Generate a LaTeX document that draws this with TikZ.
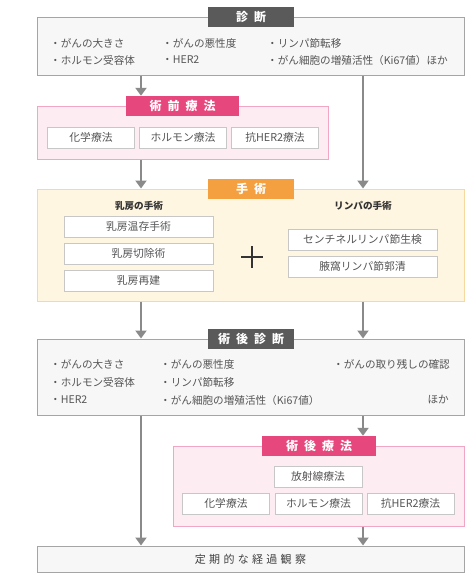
\documentclass[tikz,border=0pt]{standalone}
\usepackage{fontspec}
\setmainfont{Noto Sans CJK JP}
\usetikzlibrary{arrows.meta}
\definecolor{tabgray}{RGB}{90,90,90}
\definecolor{boxgray}{RGB}{247,247,247}
\definecolor{linegray}{RGB}{165,165,165}
\definecolor{arrgray}{RGB}{138,138,138}
\definecolor{pinktab}{RGB}{230,72,126}
\definecolor{pinkfill}{RGB}{253,237,243}
\definecolor{pinkline}{RGB}{241,166,195}
\definecolor{orangetab}{RGB}{244,160,64}
\definecolor{creamfill}{RGB}{255,246,225}
\definecolor{creamline}{RGB}{246,217,160}
\definecolor{txtgray}{RGB}{85,85,85}

\begin{document}
\begin{tikzpicture}[x=1pt,y=-1pt,
  frame/.style={draw=linegray,fill=boxgray,line width=1pt,inner sep=0pt},
  pinkframe/.style={draw=pinkline,fill=pinkfill,line width=1pt,inner sep=0pt},
  creamframe/.style={draw=creamline,fill=creamfill,line width=1pt,inner sep=0pt},
  tab/.style={fill=tabgray,text=white,minimum height=20pt,inner sep=0pt,
    font=\bfseries\fontsize{12}{12}\selectfont\addfontfeature{LetterSpace=50}},
  item/.style={draw=black!22,fill=white,line width=0.8pt,minimum height=21pt,inner sep=0pt,
    text=txtgray,font=\fontsize{10.8}{11}\selectfont},
  txt/.style={anchor=west,inner sep=0pt,text=txtgray,font=\fontsize{10.6}{11}\selectfont},
  head/.style={inner sep=0pt,text=black!80,font=\bfseries\fontsize{9.6}{10}\selectfont},
  arr/.style={draw=arrgray,line width=2.6pt,-{Triangle[width=11pt,length=8pt]}}]
\useasboundingbox (0,0) rectangle (474,581);
\coordinate (L) at (141,0);
\coordinate (R) at (363,0);

\node[frame,minimum width=427pt,minimum height=58pt] (diag) at (250.5,46) {};
\node[tab,minimum width=86pt] (diagtab) at (251,17) {診断};
\foreach \x/\y/\t [count=\i] in {50/43/・がんの大きさ, 162/43/・がんの悪性度, 267/43/・リンパ節転移,
  50/60/・ホルモン受容体, 162/60/・HER2, 267/60/・がん細胞の増殖活性（Ki67値）ほか}
  {\node[txt] (d\i) at (\x,\y) {\t};}

\node[pinkframe,minimum width=291pt,minimum height=53pt] (pre) at (182.5,132.5) {};
\node[tab,fill=pinktab,minimum width=113pt] (pretab) at (182.5,106) {術前療法};
\foreach \x/\t [count=\i] in {91/化学療法, 183/ホルモン療法, 275/抗HER2療法}
  {\node[item,minimum width=87pt] (pre\i) at (\x,137.5) {\t};}

\node[creamframe,minimum width=427pt,minimum height=112pt] (surg) at (250.5,245) {};
\node[tab,fill=orangetab,minimum width=86pt] (surgtab) at (251,189) {手術};
\node[head] (breast) at (139,206) {乳房の手術};
\node[head] (lymph) at (363,206) {リンパの手術};
\foreach \y/\t [count=\i] in {226.5/乳房温存手術, 253.5/乳房切除術, 280.5/乳房再建}
  {\node[item,minimum width=149pt] (bs\i) at (138.5,\y) {\t};}
\foreach \y/\t [count=\i] in {239.5/センチネルリンパ節生検, 266.5/腋窩リンパ節郭清}
  {\node[item,minimum width=149pt] (ls\i) at (362.5,\y) {\t};}
\draw [line width=1.6pt,black!80] (241,257)--(263,257) (252,246)--(252,268);

\node[frame,minimum width=427pt,minimum height=76pt] (post) at (250.5,377) {};
\node[tab,minimum width=86pt] (posttab) at (251,339) {術後診断};
\foreach \x/\y/\t [count=\i] in {50/364/・がんの大きさ, 160/364/・がんの悪性度,
  50/382/・ホルモン受容体, 160/382/・リンパ節転移,
  50/400/・HER2, 160/400/・がん細胞の増殖活性（Ki67値）}
  {\node[txt] (p\i) at (\x,\y) {\t};}
\node[txt,anchor=east] (p7) at (450,364) {・がんの取り残しの確認};
\node[txt,anchor=east] (p8) at (449,400) {ほか};

\node[pinkframe,minimum width=291pt,minimum height=80pt] (adj) at (318.5,486) {};
\node[tab,fill=pinktab,minimum width=114pt] (adjtab) at (319,446) {術後療法};
\node[item,minimum width=88pt] (adj0) at (318,476.5) {放射線療法};
\foreach \x/\t [count=\i] in {226/化学療法, 318.5/ホルモン療法, 410.5/抗HER2療法}
  {\node[item,minimum width=87pt] (adj\i) at (\x,503.5) {\t};}

\node[frame,minimum width=427pt,minimum height=26pt,text=black!75,
  font=\fontsize{11}{11}\selectfont\addfontfeature{LetterSpace=30}] (follow) at (250.5,559) {定期的な経過観察};

\draw[arr] (diag.south -| L) -- (pretab.north -| L);
\draw[arr] (diag.south -| R) -- (surg.north -| R);
\draw[arr] (pre.south -| L) -- (surg.north -| L);
\draw[arr] (surg.south -| L) -- (post.north -| L);
\draw[arr] (surg.south -| R) -- (post.north -| R);
\draw[arr] (post.south -| L) -- (follow.north -| L);
\draw[arr] (post.south -| R) -- (adjtab.north -| R);
\draw[arr] (adj.south -| R) -- (follow.north -| R);
\end{tikzpicture}
\end{document}
